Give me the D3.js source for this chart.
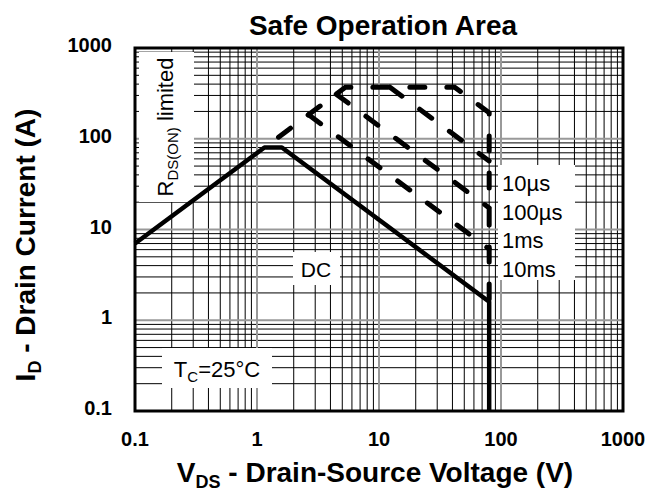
<!DOCTYPE html>
<html>
<head>
<meta charset="UTF-8">
<title>Safe Operation Area</title>
<style>
  body { margin: 0; background: #fff; }
  svg text { font-family: "Liberation Sans", Arial, sans-serif; }
</style>
</head>
<body>
<script src="https://d3js.org/d3.v7.min.js"></script>
<svg width="646" height="497"></svg>
<script>
    let svg = d3.select("svg"),
        width = +svg.attr("width"),
        height = +svg.attr("height");

    // axis ticks
    let x_ticks = [0.1, 1, 10, 100, 1000];
    let y_ticks = [0.1, 1, 10, 100, 1000];

    // DC curve (V, A)
    let dc_v = [0.1, 1.15, 1.6, 80, 80];
    let dc_i = [7, 80, 80, 1.6, 0.1];

    // RDS(on) limit + 10us envelope
    let us10_v = [1.5, 5.3, 41.7, 80, 80];
    let us10_i = [104, 370, 370, 193, 1.6];

    // other pulse lines
    let us100_v = [12.3, 80];
    let us100_i = [370, 57];
    let ms1_v = [4.46, 80];
    let ms1_i = [310, 17.3];
    let ms10_v = [2.65, 80];
    let ms10_i = [184, 6.1];

    let pulse_labels = ["10\u00b5s", "100\u00b5s", "1ms", "10ms"];

    let plot = {left: 135, right: 623, top: 48, bottom: 411};

    let x = d3.scaleLog().domain([0.1, 1000]).range([plot.left, plot.right]);
    let y = d3.scaleLog().domain([0.1, 1000]).range([plot.bottom, plot.top]);

    // minor / major grid values
    let minor = [];
    [0.1, 1, 10, 100].forEach(d => {
        for (let k = 2; k <= 9; k++) minor.push(d * k);
    });

    let g = svg.append("g");

    g.append("rect")
        .attr("x", 0).attr("y", 0)
        .attr("width", width).attr("height", height)
        .attr("fill", "#fff");

    // grid lines
    g.append("g").selectAll("line.vminor")
        .data(minor).enter().append("line")
        .attr("x1", d => x(d)).attr("x2", d => x(d))
        .attr("y1", plot.top).attr("y2", plot.bottom)
        .attr("stroke", "#000").attr("stroke-width", 1);
    g.append("g").selectAll("line.hminor")
        .data(minor).enter().append("line")
        .attr("y1", d => y(d)).attr("y2", d => y(d))
        .attr("x1", plot.left).attr("x2", plot.right)
        .attr("stroke", "#000").attr("stroke-width", 1);
    g.append("g").selectAll("line.vmajor")
        .data(x_ticks).enter().append("line")
        .attr("x1", d => x(d)).attr("x2", d => x(d))
        .attr("y1", plot.top).attr("y2", plot.bottom)
        .attr("stroke", "#999").attr("stroke-width", 2);
    g.append("g").selectAll("line.hmajor")
        .data(y_ticks).enter().append("line")
        .attr("y1", d => y(d)).attr("y2", d => y(d))
        .attr("x1", plot.left).attr("x2", plot.right)
        .attr("stroke", "#999").attr("stroke-width", 2);

    // white boxes behind in-plot labels
    let boxes = [
        [139, 52, 55, 150],
        [293, 252, 47, 33],
        [162, 348, 110, 40],
        [498, 165, 77, 115]
    ];
    g.selectAll("rect.box")
        .data(boxes).enter().append("rect")
        .attr("x", d => d[0]).attr("y", d => d[1])
        .attr("width", d => d[2]).attr("height", d => d[3])
        .attr("fill", "#fff");

    // curves
    let line = d3.line().x(d => x(d[0])).y(d => y(d[1]));
    let zip = (a, b) => a.map((v, i) => [v, b[i]]);

    let dashed = [zip(us10_v, us10_i), zip(us100_v, us100_i), zip(ms1_v, ms1_i), zip(ms10_v, ms10_i)];
    g.selectAll("path.pulse")
        .data(dashed).enter().append("path")
        .attr("d", line)
        .attr("fill", "none")
        .attr("stroke", "#000")
        .attr("stroke-width", 5)
        .attr("stroke-linecap", "round")
        .attr("stroke-dasharray", "15,22");

    g.append("path")
        .attr("d", line(zip(dc_v, dc_i)))
        .attr("fill", "none")
        .attr("stroke", "#000")
        .attr("stroke-width", 4.5)
        .attr("stroke-linejoin", "round");

    // frame
    g.append("rect")
        .attr("x", plot.left).attr("y", plot.top)
        .attr("width", plot.right - plot.left)
        .attr("height", plot.bottom - plot.top)
        .attr("fill", "none")
        .attr("stroke", "#000")
        .attr("stroke-width", 3);

    // tick labels
    g.append("g").selectAll("text")
        .data(x_ticks).enter().append("text")
        .attr("x", d => x(d)).attr("y", 446)
        .attr("text-anchor", "middle")
        .attr("font-size", 20).attr("font-weight", "bold")
        .text(d => d);
    g.append("g").selectAll("text")
        .data(y_ticks).enter().append("text")
        .attr("x", 112).attr("y", d => y(d) + 4)
        .attr("text-anchor", "end")
        .attr("font-size", 20).attr("font-weight", "bold")
        .text(d => d);

    // title
    g.append("text")
        .attr("x", 383).attr("y", 35)
        .attr("text-anchor", "middle")
        .attr("font-size", 28).attr("font-weight", "bold")
        .text("Safe Operation Area");

    // x label
    let xl = g.append("text")
        .attr("x", 375).attr("y", 482)
        .attr("text-anchor", "middle")
        .attr("font-size", 28).attr("font-weight", "bold");
    xl.append("tspan").text("V");
    xl.append("tspan").attr("font-size", 18).attr("dy", 6).text("DS");
    xl.append("tspan").attr("dy", -6).text(" - Drain-Source Voltage (V)");

    // y label
    let yl = g.append("text")
        .attr("transform", "translate(35,245) rotate(-90)")
        .attr("text-anchor", "middle")
        .attr("font-size", 28).attr("font-weight", "bold");
    yl.append("tspan").text("I");
    yl.append("tspan").attr("font-size", 18).attr("dy", 6).text("D");
    yl.append("tspan").attr("dy", -6).text(" - Drain Current (A)");

    // in-plot labels
    let rl = g.append("text")
        .attr("transform", "translate(173,127) rotate(-90)")
        .attr("text-anchor", "middle")
        .attr("font-size", 22);
    rl.append("tspan").text("R");
    rl.append("tspan").attr("font-size", 15).attr("dy", 5).text("DS(ON)");
    rl.append("tspan").attr("dy", -5).text(" limited");

    g.append("text")
        .attr("x", 316).attr("y", 277)
        .attr("text-anchor", "middle")
        .attr("font-size", 21)
        .text("DC");

    let tl = g.append("text")
        .attr("x", 217).attr("y", 377)
        .attr("text-anchor", "middle")
        .attr("font-size", 22);
    tl.append("tspan").text("T");
    tl.append("tspan").attr("font-size", 15).attr("dy", 5).text("C");
    tl.append("tspan").attr("dy", -5).text("=25\u00b0C");

    g.append("g").selectAll("text")
        .data(pulse_labels).enter().append("text")
        .attr("x", 502).attr("y", (d, i) => 191 + i * 28.5)
        .attr("font-size", 22)
        .text(d => d);
</script>
</body>
</html>
